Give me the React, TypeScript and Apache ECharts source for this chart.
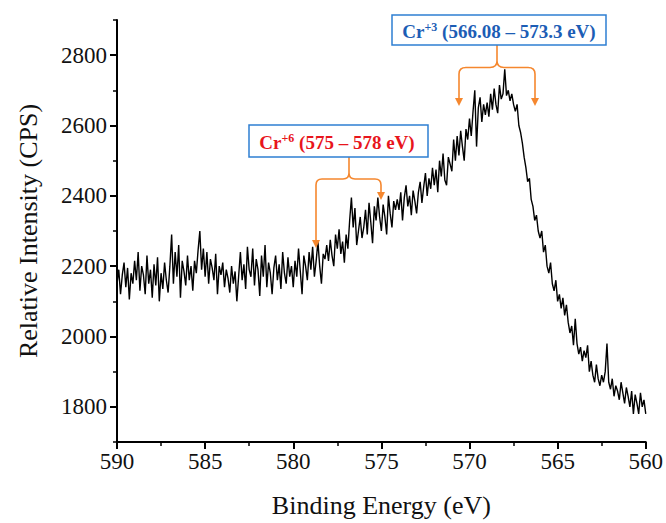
import React, { useEffect, useRef } from "react";
import * as echarts from "echarts";

// Binding energy grid (eV), from 590 down to 560 in 0.1 eV steps
const energyStart = 590;
const energyStep = 0.1;

// Intensity (CPS), one row per eV (590.0 ... 560.1), last value at 560.0
const intensity: number[] = [
  2150, 2190, 2120, 2175, 2210, 2140, 2195, 2105, 2180, 2150,
  2215, 2160, 2240, 2130, 2200, 2175, 2120, 2230, 2150, 2190,
  2110, 2205, 2145, 2225, 2100, 2180, 2135, 2210, 2160, 2125,
  2200, 2290, 2150, 2240, 2170, 2260, 2110, 2215, 2185, 2145,
  2230, 2160, 2200, 2130, 2215, 2180, 2245, 2300, 2190, 2250,
  2170, 2240, 2150, 2220, 2195, 2160, 2235, 2120, 2200, 2175,
  2210, 2140, 2190, 2165, 2125, 2200, 2150, 2185, 2100, 2170,
  2240, 2160, 2205, 2135, 2255, 2190, 2170, 2250, 2145, 2220,
  2190, 2115, 2230, 2170, 2260, 2140, 2210, 2180, 2120, 2195,
  2230, 2160, 2205, 2135, 2240, 2180, 2150, 2225, 2170, 2200,
  2140, 2215, 2170, 2250, 2185, 2120, 2230, 2200, 2160, 2240,
  2190, 2255, 2170, 2215, 2270, 2200, 2150, 2235, 2220, 2260,
  2215, 2275, 2230, 2200, 2290, 2250, 2305, 2235, 2270, 2210,
  2290, 2250, 2330, 2395, 2310, 2365, 2260, 2300, 2340, 2280,
  2310, 2360, 2290, 2380, 2325, 2265, 2370, 2330, 2395, 2340,
  2300, 2375, 2340, 2290, 2400, 2350, 2310, 2385, 2360, 2390,
  2360, 2410, 2330, 2395, 2430, 2370, 2400, 2345, 2415, 2385,
  2350, 2410, 2440, 2380, 2425, 2465, 2400, 2450, 2420, 2480,
  2430, 2475, 2410, 2500, 2455, 2520, 2445, 2430, 2510, 2490,
  2470, 2560, 2500, 2570, 2515, 2585, 2540, 2500, 2590, 2560,
  2620, 2570, 2640, 2700, 2540, 2650, 2680, 2610, 2660, 2630,
  2665, 2625, 2690, 2645, 2705, 2660, 2635, 2715, 2675, 2690,
  2760, 2685, 2700, 2670, 2690, 2660, 2640, 2660, 2600, 2580,
  2550, 2510, 2480, 2440, 2450, 2390, 2370, 2330, 2345, 2300,
  2280, 2300, 2240, 2260, 2200, 2180, 2210, 2150, 2130, 2160,
  2100, 2120, 2080, 2110, 2060, 2090, 2040, 2010, 2030, 1975,
  2050, 1980, 1950, 1970, 1930, 1960, 1940, 1975, 1900, 1930,
  1890, 1870, 1920, 1880, 1860, 1890, 1870, 1900, 1980, 1870,
  1850, 1880, 1830, 1860, 1845, 1820, 1870, 1840, 1810, 1855,
  1830, 1800, 1845, 1780, 1835, 1810, 1780, 1840, 1800, 1820,
  1780,
];

const yMajorTicks = [1800, 2000, 2200, 2400, 2600, 2800];

const FONT = "'Liberation Serif', 'Times New Roman', serif";
const ORANGE = "#F5872E";
const BLUE_BORDER = "#2E7FD2";
const BLUE_TEXT = "#1C5DB5";
const RED_TEXT = "#E8151C";

const cr3Brace =
  "M497,45 L497,61 Q497,67.5 490,67.5 L466,67.5 Q459,67.5 459,74 L459,99 " +
  "M497,61 Q497,67.5 504,67.5 L528,67.5 Q535,67.5 535,74 L535,99";
const cr6Brace =
  "M349,157 L349,173 Q349,179 343,179 L322,179 Q316,179 316,185 L316,241 " +
  "M349,173 Q349,179 355,179 L375,179 Q381,179 381,185 L381,193";

export default function App() {
  const ref = useRef<HTMLDivElement>(null);

  useEffect(() => {
    document.body.style.margin = "0";
    if (!ref.current) return;
    echarts.graphic.registerShape("cr3brace", echarts.graphic.extendPath(cr3Brace, {}) as any);
    echarts.graphic.registerShape("cr6brace", echarts.graphic.extendPath(cr6Brace, {}) as any);
    const chart = echarts.init(ref.current, undefined, { renderer: "svg" });

    const data = intensity.map((v, i) => [
      Math.round((energyStart - i * energyStep) * 100) / 100,
      v,
    ]);

    const labelStyle = { color: "#111", fontFamily: FONT, fontSize: 23 };

    chart.setOption({
      animation: false,
      backgroundColor: "#fff",
      grid: { left: 117, right: 18, top: 20, bottom: 76 },
      xAxis: {
        type: "value",
        inverse: true,
        min: 560,
        max: 590,
        interval: 5,
        name: "Binding Energy (eV)",
        nameLocation: "middle",
        nameGap: 50,
        nameTextStyle: { color: "#111", fontFamily: FONT, fontSize: 26 },
        axisLine: { show: true, onZero: false, lineStyle: { color: "#000", width: 2 } },
        axisTick: { show: true, inside: false, length: 7, lineStyle: { color: "#000", width: 2 } },
        minorTick: { show: true, splitNumber: 2, length: 4, lineStyle: { color: "#000", width: 1.5 } },
        axisLabel: { ...labelStyle, margin: 8 },
        splitLine: { show: false },
      },
      yAxis: [
        {
          type: "value",
          min: 1700,
          max: 2900,
          interval: 100,
          position: "left",
          name: "Relative Intensity (CPS)",
          nameLocation: "middle",
          nameGap: 76,
          nameTextStyle: { color: "#111", fontFamily: FONT, fontSize: 26 },
          axisLine: { show: true, onZero: false, lineStyle: { color: "#000", width: 2 } },
          axisTick: { show: true, inside: false, length: 4, lineStyle: { color: "#000", width: 1.5 } },
          axisLabel: {
            ...labelStyle,
            margin: 10,
            formatter: (v: number) => (v % 200 === 0 ? String(v) : ""),
          },
          splitLine: { show: false },
        },
        {
          type: "value",
          min: 1700,
          max: 2900,
          interval: 100,
          position: "left",
          axisLine: { show: false },
          axisTick: {
            show: true,
            inside: false,
            length: 7,
            customValues: yMajorTicks,
            lineStyle: { color: "#000", width: 2 },
          },
          axisLabel: { show: false },
          splitLine: { show: false },
        },
      ],
      series: [
        {
          type: "line",
          data,
          symbol: "none",
          showSymbol: false,
          lineStyle: { color: "#000", width: 1.4 },
          z: 2,
        },
      ],
      graphic: [
        {
          type: "cr3brace",
          x: 0,
          y: 0,
          style: { fill: "none", stroke: ORANGE, lineWidth: 1.6 },
          z: 10,
        },
        {
          type: "polygon",
          shape: { points: [[455, 98], [463, 98], [459, 106]] },
          style: { fill: ORANGE },
          z: 10,
        },
        {
          type: "polygon",
          shape: { points: [[531, 98], [539, 98], [535, 106]] },
          style: { fill: ORANGE },
          z: 10,
        },
        {
          type: "cr6brace",
          x: 0,
          y: 0,
          style: { fill: "none", stroke: ORANGE, lineWidth: 1.6 },
          z: 10,
        },
        {
          type: "polygon",
          shape: { points: [[312, 240], [320, 240], [316, 248]] },
          style: { fill: ORANGE },
          z: 10,
        },
        {
          type: "polygon",
          shape: { points: [[377, 192], [385, 192], [381, 200]] },
          style: { fill: ORANGE },
          z: 10,
        },
        {
          type: "rect",
          shape: { x: 392, y: 15, width: 214, height: 30 },
          style: { fill: "#fff", stroke: BLUE_BORDER, lineWidth: 1.5 },
          z: 11,
        },
        {
          type: "text",
          x: 499,
          y: 31,
          style: {
            text: "{a|Cr}{s|+3}{a| (566.08 – 573.3 eV)}",
            align: "center",
            verticalAlign: "middle",
            rich: {
              a: { fontFamily: FONT, fontSize: 19, fontWeight: "bold", fill: BLUE_TEXT, lineHeight: 20 },
              s: { fontFamily: FONT, fontSize: 12, fontWeight: "bold", fill: BLUE_TEXT, verticalAlign: "top", lineHeight: 20 },
            },
          },
          z: 12,
        },
        {
          type: "rect",
          shape: { x: 249, y: 125, width: 179, height: 32 },
          style: { fill: "#fff", stroke: BLUE_BORDER, lineWidth: 1.5 },
          z: 11,
        },
        {
          type: "text",
          x: 337,
          y: 142,
          style: {
            text: "{a|Cr}{s|+6}{a| (575 – 578 eV)}",
            align: "center",
            verticalAlign: "middle",
            rich: {
              a: { fontFamily: FONT, fontSize: 19, fontWeight: "bold", fill: RED_TEXT, lineHeight: 20 },
              s: { fontFamily: FONT, fontSize: 12, fontWeight: "bold", fill: RED_TEXT, verticalAlign: "top", lineHeight: 20 },
            },
          },
          z: 12,
        },
      ],
    });

    return () => {
      chart.dispose();
    };
  }, []);

  return <div ref={ref} style={{ width: 666, height: 523 }} />;
}
